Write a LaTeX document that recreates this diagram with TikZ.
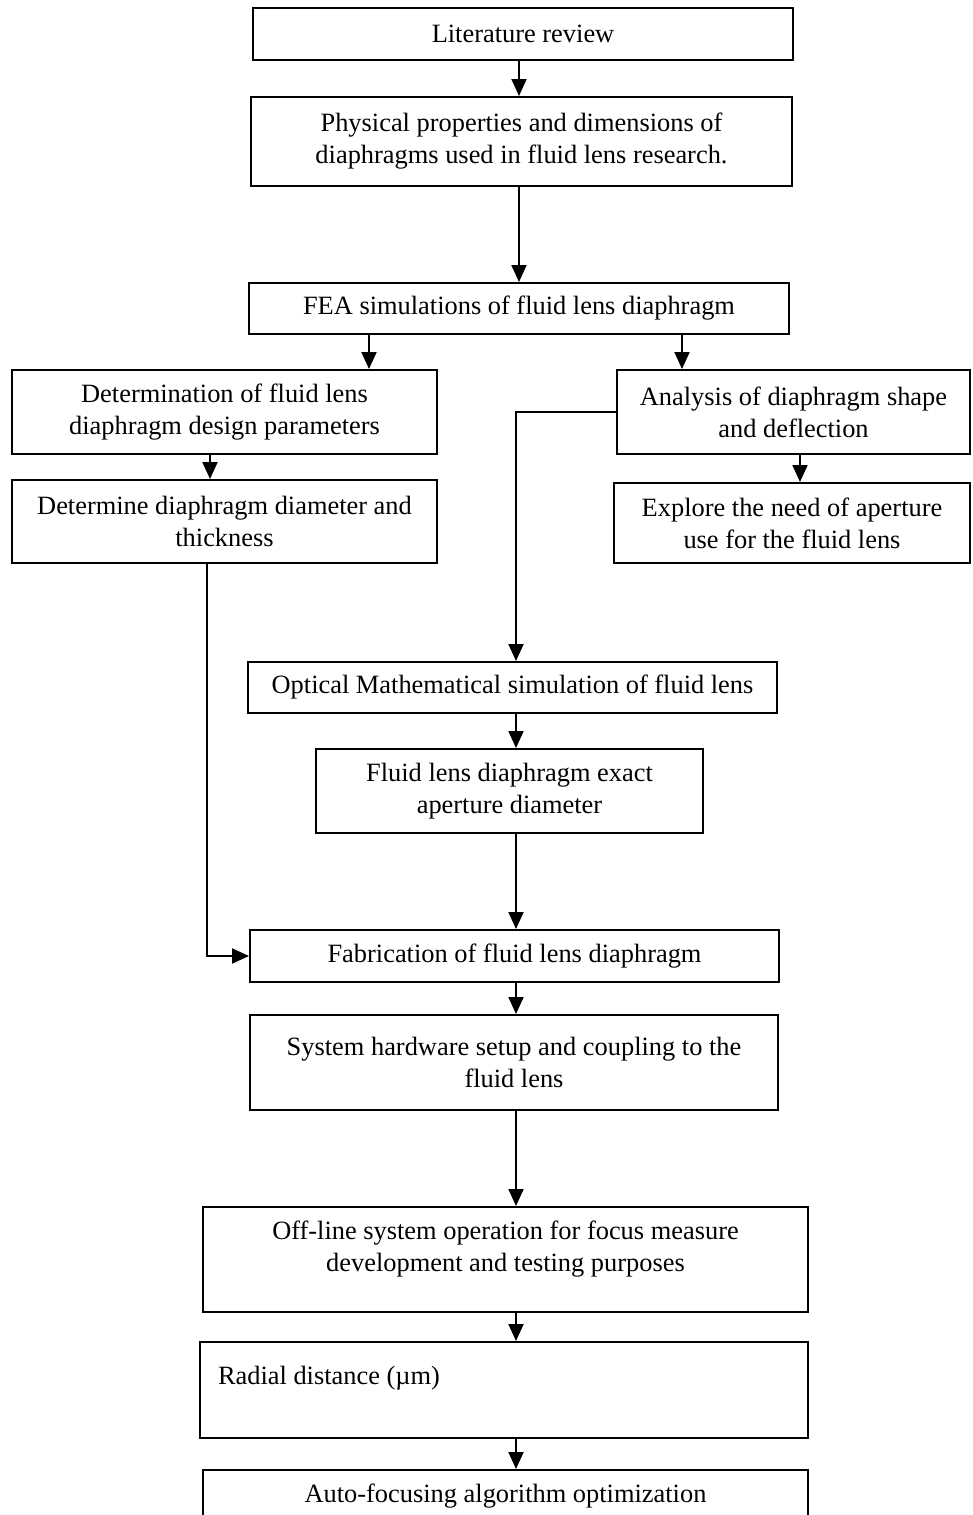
\documentclass[tikz,border=0pt]{standalone}
\usepackage{fontspec}
\setmainfont{Liberation Serif}
\usetikzlibrary{arrows.meta,calc}

\begin{document}
\begin{tikzpicture}[x=1pt,y=-1pt,
    stage/.style={draw,line width=2pt,align=center,inner sep=4pt,
                  font=\fontsize{26.4}{32}\selectfont},
    flow/.style={line width=2pt,-{Triangle[length=17pt,width=15pt]}}
  ]
  \useasboundingbox (0,0) rectangle (972,1515);

  \coordinate (topaxis) at (519,0);
  \coordinate (axis) at (516,0);
  \coordinate (fealeft) at (369,0);
  \coordinate (fearight) at (682,0);
  \coordinate (leftdrop) at (210,0);
  \coordinate (rightdrop) at (800,0);
  \coordinate (leftfeed) at (207,0);

  \node[stage,minimum width=540pt,minimum height=52pt] (lit) at (523,34) {Literature review};
  \node[stage,minimum width=541pt,minimum height=89pt] (phys) at (521.5,141.5)
    {Physical properties and dimensions of\\diaphragms used in fluid lens research.};
  \node[stage,minimum width=540pt,minimum height=51pt] (fea) at (519,308.5)
    {FEA simulations of fluid lens diaphragm};
  \node[stage,minimum width=425pt,minimum height=84pt] (detpar) at (224.5,412)
    {Determination of fluid lens\\diaphragm design parameters};
  \node[stage,minimum width=353pt,minimum height=84pt] (ana) at (793.5,412)
    {Analysis of diaphragm shape\\and deflection};
  \node[stage,minimum width=425pt,minimum height=83pt] (detdia) at (224.5,521.5)
    {Determine diaphragm diameter and\\thickness};
  \node[stage,minimum width=356pt,minimum height=80pt] (expl) at (792,523)
    {Explore the need of aperture\\use for the fluid lens};
  \node[stage,minimum width=529pt,minimum height=51pt] (optic) at (512.5,687.5)
    {Optical Mathematical simulation of fluid lens};
  \node[stage,minimum width=387pt,minimum height=84pt] (aper) at (509.5,791)
    {Fluid lens diaphragm exact\\aperture diameter};
  \node[stage,minimum width=529pt,minimum height=52pt] (fab) at (514.5,956)
    {Fabrication of fluid lens diaphragm};
  \node[stage,minimum width=528pt,minimum height=95pt] (hw) at (514,1062.5)
    {System hardware setup and coupling to the\\fluid lens};
  \node[stage,minimum width=605pt,minimum height=105pt,text depth=27pt] (offl) at (505.5,1259.5)
    {Off-line system operation for focus measure\\development and testing purposes};
  \node[stage,minimum width=608pt,minimum height=96pt,align=flush left,text width=572pt,
        text depth=30pt] (rad) at (504,1390) {Radial distance (µm)};
  \node[stage,minimum width=605pt,minimum height=52pt] (auto) at (505.5,1496)
    {Auto-focusing algorithm optimization};

  \draw[flow] (lit.south -| topaxis) -- (phys.north -| topaxis);
  \draw[flow] (phys.south -| topaxis) -- (fea.north -| topaxis);
  \draw[flow] (fea.south -| fealeft) -- (detpar.north -| fealeft);
  \draw[flow] (fea.south -| fearight) -- (ana.north -| fearight);
  \draw[flow] (detpar.south -| leftdrop) -- (detdia.north -| leftdrop);
  \draw[flow] (ana.south -| rightdrop) -- (expl.north -| rightdrop);
  \draw[flow] (ana.west) -| (optic.north -| axis);
  \draw[flow] (optic.south -| axis) -- (aper.north -| axis);
  \draw[flow] (aper.south -| axis) -- (fab.north -| axis);
  \draw[flow] (detdia.south -| leftfeed) |- (fab.west);
  \draw[flow] (fab.south -| axis) -- (hw.north -| axis);
  \draw[flow] (hw.south -| axis) -- (offl.north -| axis);
  \draw[flow] (offl.south -| axis) -- (rad.north -| axis);
  \draw[flow] (rad.south -| axis) -- (auto.north -| axis);
\end{tikzpicture}
\end{document}
